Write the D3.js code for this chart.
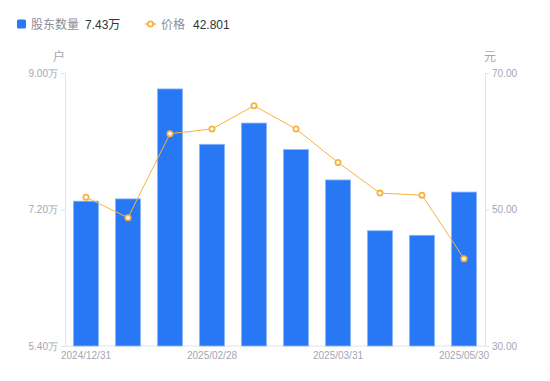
<!DOCTYPE html>
<html>
<head>
<meta charset="utf-8">
<script src="https://cdn.jsdelivr.net/npm/d3@7"></script>
<style>
  body { margin: 0; background: #fff; }
  svg { font-family: "Liberation Sans", "Noto Sans CJK SC", sans-serif; }
  .axis text { fill: #a3a6b4; font-size: 10px; }
  .axis path, .axis line { stroke: #e3e4e8; }
</style>
</head>
<body>
<div id="chart"></div>
<script>
// data
const dates = ["2024/12/31", "2025/01/10", "2025/01/20", "2025/02/28", "2025/03/10",
               "2025/03/20", "2025/03/31", "2025/04/30", "2025/05/20", "2025/05/30"];
const holders = [7.31, 7.34, 8.79, 8.06, 8.34, 7.99, 7.59, 6.92, 6.86, 7.43]; // 万户
const prices = [51.8, 48.8, 61.1, 61.8, 65.2, 61.8, 56.9, 52.4, 52.1, 42.801];
const xTickLabels = ["2024/12/31", "2025/02/28", "2025/03/31", "2025/05/30"];
const leftTicks = [5.4, 7.2, 9.0];
const rightTicks = [30, 50, 70];

const W = 550, H = 381;
const plotL = 65, plotR = 485, plotT = 73, plotB = 346;

const svg = d3.select("#chart").append("svg")
    .attr("width", W).attr("height", H);

const x = d3.scaleBand().domain(dates).range([plotL, plotR]).paddingInner(0.4).paddingOuter(0.2);
const yL = d3.scaleLinear().domain([5.4, 9.0]).range([plotB, plotT]);
const yR = d3.scaleLinear().domain([30, 70]).range([plotB, plotT]);

// axes
svg.append("g").attr("class", "axis")
    .attr("transform", `translate(${plotL},0)`)
    .call(d3.axisLeft(yL).tickValues(leftTicks).tickSize(4).tickPadding(3)
        .tickFormat(d => d3.format(".2f")(d) + "万"));

svg.append("g").attr("class", "axis")
    .attr("transform", `translate(${plotR},0)`)
    .call(d3.axisRight(yR).tickValues(rightTicks).tickSize(4).tickPadding(3)
        .tickFormat(d3.format(".2f")));

const xAxis = svg.append("g").attr("class", "axis")
    .attr("transform", `translate(0,${plotB})`)
    .call(d3.axisBottom(x).tickValues(xTickLabels).tickSize(0).tickPadding(6));
xAxis.select(".domain").attr("d", `M${plotL},0H${plotR}`);

// unit labels
svg.append("text").attr("x", 59).attr("y", 61).attr("text-anchor", "middle")
    .attr("fill", "#a3a6b4").attr("font-size", 12).text("户");
svg.append("text").attr("x", 490).attr("y", 61).attr("text-anchor", "middle")
    .attr("fill", "#a3a6b4").attr("font-size", 12).text("元");

// bars
svg.append("g").selectAll("rect")
    .data(holders)
    .enter().append("rect")
    .attr("x", (d, i) => x(dates[i]))
    .attr("y", d => yL(d))
    .attr("width", x.bandwidth())
    .attr("height", d => plotB - yL(d))
    .attr("fill", "#2878f5")
    .attr("stroke", "#8cb8fa")
    .attr("stroke-width", 0.8);

// price line
const line = d3.line()
    .x((d, i) => x(dates[i]) + x.bandwidth() / 2)
    .y(d => yR(d));

svg.append("path").datum(prices)
    .attr("d", line)
    .attr("fill", "none")
    .attr("stroke", "#f7b33e")
    .attr("stroke-width", 1);

svg.append("g").selectAll("circle")
    .data(prices)
    .enter().append("circle")
    .attr("cx", (d, i) => x(dates[i]) + x.bandwidth() / 2)
    .attr("cy", d => yR(d))
    .attr("r", 2.6)
    .attr("fill", "#fff")
    .attr("stroke", "#f7b33e")
    .attr("stroke-width", 1.8);

// legend
const lg = svg.append("g").attr("font-size", 12);
lg.append("rect").attr("x", 17).attr("y", 19.5).attr("width", 9).attr("height", 9)
    .attr("rx", 1.5).attr("fill", "#2878f5");
lg.append("text").attr("x", 31).attr("y", 28.5).attr("fill", "#8a8d99").text("股东数量");
lg.append("text").attr("x", 85).attr("y", 28.5).attr("fill", "#333").text("7.43万");

lg.append("line").attr("x1", 145).attr("x2", 156).attr("y1", 24).attr("y2", 24)
    .attr("stroke", "#f7b33e").attr("stroke-width", 1.5);
lg.append("circle").attr("cx", 150.5).attr("cy", 24).attr("r", 2.6)
    .attr("fill", "#fff").attr("stroke", "#f7b33e").attr("stroke-width", 1.8);
lg.append("text").attr("x", 161).attr("y", 28.5).attr("fill", "#8a8d99").text("价格");
lg.append("text").attr("x", 193).attr("y", 28.5).attr("fill", "#333").text("42.801");
</script>
</body>
</html>
